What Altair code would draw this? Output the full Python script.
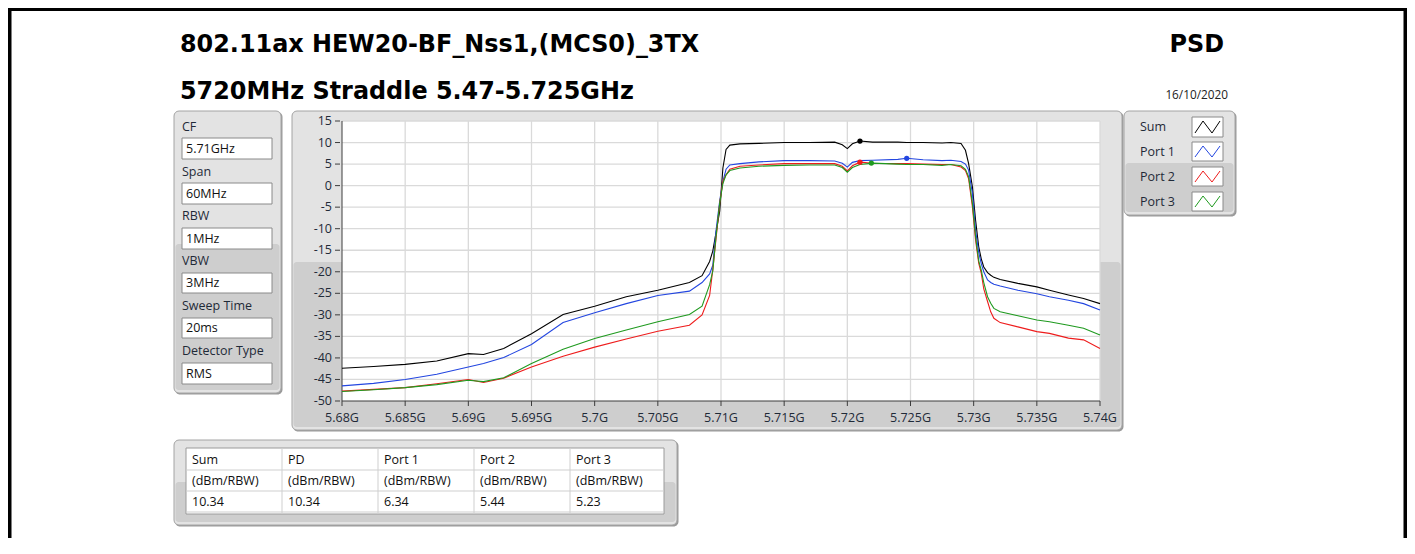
import altair as alt
import pandas as pd

# ---------------------------------------------------------------- data
freq_ghz = [5.68, 5.6825, 5.685, 5.6875, 5.69, 5.6912, 5.6928, 5.695, 5.6975, 5.70,
            5.7025, 5.705, 5.7075, 5.7085, 5.7091, 5.70935, 5.7096, 5.7099, 5.71015, 5.7104,
            5.7107, 5.7115, 5.713, 5.715, 5.717, 5.719, 5.7196, 5.72, 5.7204, 5.721,
            5.722, 5.724, 5.7247, 5.726, 5.7275, 5.7282, 5.729, 5.72935, 5.7296, 5.7299,
            5.73015, 5.7304, 5.7306, 5.7308, 5.7311, 5.73135, 5.7316, 5.7321, 5.7335, 5.735,
            5.736, 5.7375, 5.7387, 5.74]

sum_db = [-42.4, -42.0, -41.5, -40.7, -39.0, -39.2, -37.8, -34.4, -29.9, -28.0,
          -25.8, -24.3, -22.5, -20.9, -17.6, -15.2, -11.0, -5.9, 4.1, 8.4,
          9.4, 9.7, 9.8, 10.0, 10.0, 10.1, 9.5, 8.6, 9.7, 10.34,
          10.1, 10.1, 10.0, 10.0, 9.9, 10.0, 9.8, 8.2, 5.1, -0.3,
          -8.0, -14.2, -17.0, -18.9, -20.2, -20.8, -21.3, -21.8, -22.7, -23.5,
          -24.3, -25.4, -26.2, -27.4]

port1_db = [-46.5, -45.9, -45.0, -43.8, -42.1, -41.3, -39.9, -36.9, -31.8, -29.5,
            -27.4, -25.5, -24.5, -22.5, -20.5, -18.5, -10.6, -3.5, 1.0, 3.8,
            4.8, 5.1, 5.5, 5.8, 5.8, 5.7, 5.2, 4.3, 5.4, 5.8,
            5.9, 6.1, 6.34, 6.0, 5.8, 5.9, 5.6, 5.0, 3.6, -1.8,
            -10.3, -15.5, -18.1, -20.0, -21.9, -22.5, -22.9, -23.3, -24.3, -25.1,
            -25.8, -26.6, -27.4, -28.9]

port2_db = [-47.7, -47.3, -46.9, -46.0, -45.0, -45.7, -44.7, -42.1, -39.6, -37.5,
            -35.6, -33.8, -32.4, -30.0, -25.5, -19.5, -12.5, -4.0, 1.0, 2.5,
            3.8, 4.5, 4.8, 5.1, 5.1, 5.1, 4.5, 3.4, 4.6, 5.44,
            5.2, 5.1, 5.1, 5.0, 4.9, 4.9, 4.3, 3.5, 1.6, -4.9,
            -12.6, -18.0, -20.3, -24.0, -26.9, -29.3, -30.8, -31.8, -32.8, -33.9,
            -34.3, -35.4, -35.8, -37.8]

port3_db = [-47.8, -47.4, -46.9, -46.2, -45.2, -45.5, -44.6, -41.3, -38.0, -35.5,
            -33.5, -31.6, -29.9, -28.0, -23.0, -19.8, -12.0, -4.0, 0.5, 2.5,
            3.5, 4.1, 4.5, 4.7, 4.8, 4.8, 4.2, 3.1, 4.2, 4.9,
            5.23, 5.0, 4.9, 4.9, 4.7, 4.9, 4.6, 3.8, 2.1, -4.1,
            -11.8, -17.5, -19.6, -22.5, -25.8, -27.3, -28.5, -29.3, -30.2, -31.2,
            -31.6, -32.4, -33.1, -34.7]

series_names = ["Sum", "Port 1", "Port 2", "Port 3"]
series_colors = ["#000000", "#2346e0", "#ee1c1c", "#1f9a1f"]

peak_freq_ghz = [5.7210, 5.7247, 5.7210, 5.7219]
peak_db = [10.34, 6.34, 5.44, 5.23]

x_tick_values = [5.68, 5.685, 5.69, 5.695, 5.70, 5.705, 5.71, 5.715, 5.72, 5.725, 5.73, 5.735, 5.74]
y_tick_values = [-50, -45, -40, -35, -30, -25, -20, -15, -10, -5, 0, 5, 10, 15]

settings_labels = ["CF", "Span", "RBW", "VBW", "Sweep Time", "Detector Type"]
settings_values = ["5.71GHz", "60MHz", "1MHz", "3MHz", "20ms", "RMS"]

table_headers = ["Sum", "PD", "Port 1", "Port 2", "Port 3"]
table_units = ["(dBm/RBW)", "(dBm/RBW)", "(dBm/RBW)", "(dBm/RBW)", "(dBm/RBW)"]
table_values = ["10.34", "10.34", "6.34", "5.44", "5.23"]

title_line1 = "802.11ax HEW20-BF_Nss1,(MCS0)_3TX"
title_line2 = "5720MHz Straddle 5.47-5.725GHz"
title_right = "PSD"
date_text = "16/10/2020"

# ---------------------------------------------------------------- layout
OX, OY = 342, 121          # page position of the plot-area origin
PW, PH = 758, 280          # plot area size
SVG_W, SVG_H = 1399, 530   # whole drawing (kept inside the page margins)
FONT = "Open Sans"
TITLE_FONT = "DejaVu Sans"
SMALL = 12.5
PANEL_LIGHT = "#e3e3e3"
PANEL_DARK = "#cecece"
PANEL_EDGE = "#a4a4a4"
PANEL_SHADOW = "#9a9a9a"
LABEL_COLOR = "#1f2a38"
AXIS_COLOR = "#3c3c3c"

xs = alt.Scale(domain=[5.68, 5.74], nice=False, zero=False)
ys = alt.Scale(domain=[-50, 15], nice=False, zero=False)


def rect_layer(rows, corner=0, sw=1):
    df = pd.DataFrame(rows, columns=["x", "y", "x2", "y2", "fill", "stroke"])
    df["x"] = df["x"] - OX
    df["x2"] = df["x2"] - OX
    df["y"] = df["y"] - OY
    df["y2"] = df["y2"] - OY
    return alt.Chart(df).mark_rect(cornerRadius=corner, strokeWidth=sw).encode(
        x=alt.X("x:Q", scale=None, axis=None), x2="x2:Q",
        y=alt.Y("y:Q", scale=None, axis=None), y2="y2:Q",
        fill=alt.Fill("fill:N", scale=None, legend=None),
        stroke=alt.Stroke("stroke:N", scale=None, legend=None),
    )


def text_layer(rows, size=SMALL, weight="normal", align="left", baseline="middle",
               color="#111111", font=FONT):
    df = pd.DataFrame(rows, columns=["x", "y", "t"])
    df["x"] = df["x"] - OX
    df["y"] = df["y"] - OY
    return alt.Chart(df).mark_text(font=font, fontSize=size, fontWeight=weight, align=align,
                                   baseline=baseline, color=color).encode(
        x=alt.X("x:Q", scale=None, axis=None),
        y=alt.Y("y:Q", scale=None, axis=None),
        text="t:N",
    )


def seg_layer(rows, sw=1):
    df = pd.DataFrame(rows, columns=["x", "y", "x2", "y2", "c"])
    df["x"] = df["x"] - OX
    df["x2"] = df["x2"] - OX
    df["y"] = df["y"] - OY
    df["y2"] = df["y2"] - OY
    return alt.Chart(df).mark_rule(strokeWidth=sw).encode(
        x=alt.X("x:Q", scale=None, axis=None), x2="x2:Q",
        y=alt.Y("y:Q", scale=None, axis=None), y2="y2:Q",
        color=alt.Color("c:N", scale=None, legend=None),
    )


layers = []

# page frame (black)
right_edge = 8 + SVG_W
layers.append(rect_layer([
    (8, 8, 11.5, 8 + SVG_H, "#000000", "transparent"),
    (8, 8, right_edge, 11, "#000000", "transparent"),
    (right_edge - 3.5, 8, right_edge, 8 + SVG_H, "#000000", "transparent"),
]))

# panels: shadow, body, lower shade
panels = [
    # x0, y0, x1, y1, shade_y
    (174, 111, 281, 393, 244),     # settings
    (292, 111, 1122, 430, 262),    # graph
    (1124, 111, 1235, 215, 163),   # legend
    (174, 440, 677, 525, 482),     # table
]
layers.append(rect_layer([(x0 + 1, y0 + 1, x1 + 1.5, y1 + 1.5, PANEL_SHADOW, "transparent")
                          for x0, y0, x1, y1, s in panels], corner=5))
layers.append(rect_layer([(x0, y0, x1, y1, PANEL_LIGHT, PANEL_EDGE)
                          for x0, y0, x1, y1, s in panels], corner=5))
layers.append(rect_layer([(x0 + 1.5, s, x1 - 1.5, y1 - 3, PANEL_DARK, "transparent")
                          for x0, y0, x1, y1, s in panels], corner=3))

# white plot area
layers.append(rect_layer([(OX, OY, OX + PW, OY + PH, "#ffffff", "transparent")]))

# grid lines (through the data scales)
grid_x = pd.DataFrame({"v": x_tick_values[1:]})
grid_y = pd.DataFrame({"v": y_tick_values[1:]})
layers.append(alt.Chart(grid_x).mark_rule(color="#dadada", strokeWidth=1.3).encode(
    x=alt.X("v:Q", scale=xs, axis=None)))
layers.append(alt.Chart(grid_y).mark_rule(color="#dadada", strokeWidth=1.3).encode(
    y=alt.Y("v:Q", scale=ys, axis=None)))

# axes drawn from the tick lists through the same scales
xt = pd.DataFrame({"v": x_tick_values, "lab": [("%g" % v) + "G" for v in x_tick_values]})
yt = pd.DataFrame({"v": y_tick_values, "lab": [str(v) for v in y_tick_values]})
layers.append(alt.Chart(xt).mark_rule(color=AXIS_COLOR, strokeWidth=1).encode(
    x=alt.X("v:Q", scale=xs, axis=None), y=alt.value(PH), y2=alt.value(PH + 5)))
layers.append(alt.Chart(xt).mark_text(font=FONT, fontSize=SMALL, color=LABEL_COLOR,
                                      align="center", baseline="middle").encode(
    x=alt.X("v:Q", scale=xs, axis=None), y=alt.value(PH + 17), text="lab:N"))
layers.append(alt.Chart(yt).mark_rule(color=AXIS_COLOR, strokeWidth=1).encode(
    y=alt.Y("v:Q", scale=ys, axis=None), x=alt.value(-7), x2=alt.value(-2)))
layers.append(alt.Chart(yt).mark_text(font=FONT, fontSize=SMALL, color=LABEL_COLOR,
                                      align="right", baseline="middle").encode(
    y=alt.Y("v:Q", scale=ys, axis=None), x=alt.value(-10), text="lab:N"))
layers.append(alt.Chart(xt.head(1)).mark_rule(color=AXIS_COLOR, strokeWidth=1).encode(
    x=alt.value(0), y=alt.value(0), y2=alt.value(PH)))
layers.append(alt.Chart(xt.head(1)).mark_rule(color=AXIS_COLOR, strokeWidth=1).encode(
    x=alt.value(0), x2=alt.value(PW), y=alt.value(PH)))

# traces
rows = []
for name, vals in zip(series_names, [sum_db, port1_db, port2_db, port3_db]):
    for f, v in zip(freq_ghz, vals):
        rows.append({"freq": f, "db": v, "series": name})
trace_df = pd.DataFrame(rows)
color_scale = alt.Scale(domain=series_names, range=series_colors)

layers.append(alt.Chart(trace_df).mark_line(strokeWidth=1.1, interpolate="linear").encode(
    x=alt.X("freq:Q", scale=xs, axis=None),
    y=alt.Y("db:Q", scale=ys, axis=None),
    color=alt.Color("series:N", scale=color_scale, legend=None),
    detail="series:N",
))

peak_df = pd.DataFrame({"freq": peak_freq_ghz, "db": peak_db, "series": series_names})
layers.append(alt.Chart(peak_df).mark_circle(size=28, opacity=1).encode(
    x=alt.X("freq:Q", scale=xs, axis=None),
    y=alt.Y("db:Q", scale=ys, axis=None),
    color=alt.Color("series:N", scale=color_scale, legend=None),
))

# titles
layers.append(text_layer([(180, 52, title_line1), (180, 99, title_line2)],
                         size=23.9, weight="bold", baseline="alphabetic", color="#000000",
                         font=TITLE_FONT))
layers.append(text_layer([(1224, 52, title_right)], size=23.9, weight="bold", align="right",
                         baseline="alphabetic", color="#000000", font=TITLE_FONT))
layers.append(text_layer([(1228, 94.5, date_text)], size=11.8, align="right", color="#222222"))

# settings panel
label_y = [127, 172, 216, 261, 306, 351]
box_y = [(138, 159), (183, 204), (228, 249), (273, 293), (318, 338), (363, 384)]
layers.append(rect_layer([(182, a, 272, b, "#ffffff", "#8a8a8a") for a, b in box_y]))
layers.append(text_layer([(182, y, t) for y, t in zip(label_y, settings_labels)],
                         color=LABEL_COLOR))
layers.append(text_layer([(186, (a + b) / 2, t) for (a, b), t in zip(box_y, settings_values)],
                         color="#111111"))

# legend panel
leg_rows = [(117, 137), (142, 161), (167, 186), (192, 211)]
leg_label_y = [127, 152, 177, 202]
layers.append(rect_layer([(1192, a, 1223, b, "#ffffff", "#8a8a8a") for a, b in leg_rows]))
layers.append(text_layer([(1140, y, t) for y, t in zip(leg_label_y, series_names)],
                         color=LABEL_COLOR))
zig = []
for (a, b), c in zip(leg_rows, series_colors):
    lo, hi = b - 4, a + 4
    zig += [(1195, lo, 1203, hi, c), (1203, hi, 1212, lo, c), (1212, lo, 1220, hi, c)]
layers.append(seg_layer(zig, sw=1))

# result table
col_x = [186, 282, 378, 474, 570, 664]
row_y = [448, 470, 491, 512]
layers.append(rect_layer([(186, 448, 664, 514, "#ffffff", "#9a9a9a")]))
table_lines = [(x, 448, x, 514, "#cfcfcf") for x in col_x[1:-1]]
table_lines += [(186, y, 664, y, "#cfcfcf") for y in row_y[1:]]
layers.append(seg_layer(table_lines, sw=1))
cells = []
for i in range(5):
    cells.append((col_x[i] + 6, 459.5, table_headers[i]))
    cells.append((col_x[i] + 6, 480.5, table_units[i]))
    cells.append((col_x[i] + 6, 501.5, table_values[i]))
layers.append(text_layer(cells, color="#111111"))

chart = alt.layer(*layers).properties(
    width=PW, height=PH,
    padding={"left": OX - 8, "top": OY - 8, "right": SVG_W - (OX - 8) - PW,
             "bottom": SVG_H - (OY - 8) - PH},
    autosize=alt.AutoSizeParams(type="none"),
    background="white",
).configure_view(stroke=None)

chart.save("out.html", embed_options={"renderer": "svg", "actions": False})
